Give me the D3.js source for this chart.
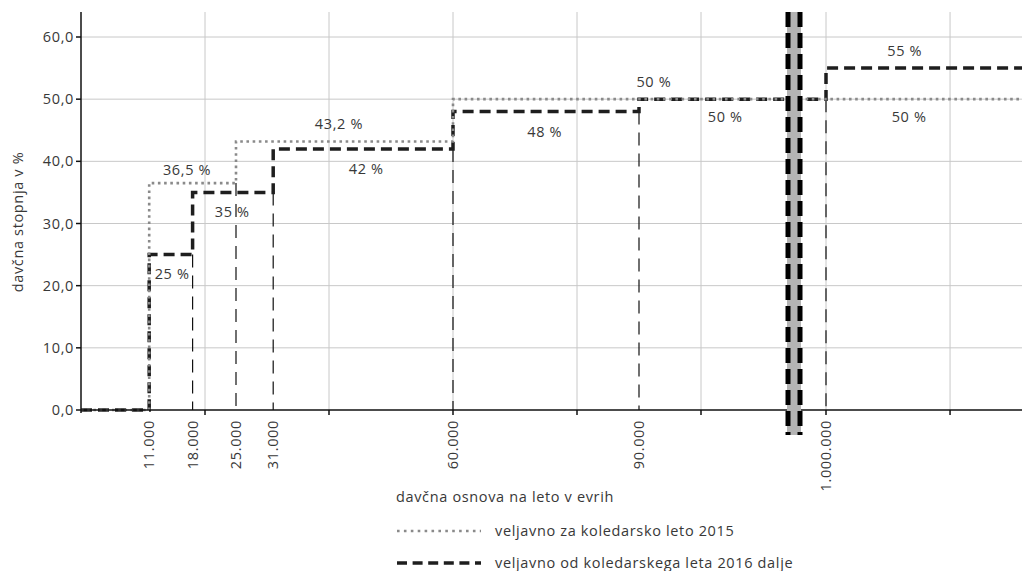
<!DOCTYPE html>
<html>
<head>
<meta charset="utf-8">
<script src="https://cdn.jsdelivr.net/npm/d3@7"></script>
<style>
  html, body { margin: 0; padding: 0; background: #fff; }
  svg text { font-family: "Open Sans", "Liberation Sans", sans-serif; fill: #383838; font-size: 14.5px; letter-spacing: 0.65px; }
</style>
</head>
<body>
<svg id="chart" width="1022" height="571"></svg>
<script>
// ---------- data ----------
const thresholds = [11000, 18000, 25000, 31000, 60000, 90000, 1000000];
const thresholdLabels = ["11.000", "18.000", "25.000", "31.000", "60.000", "90.000", "1.000.000"];
// step series: rate valid from each start value
const starts2015 = [0, 11000, 25000, 60000];
const rates2015  = [0, 36.5, 43.2, 50];
const starts2016 = [0, 11000, 18000, 31000, 60000, 90000, 1000000];
const rates2016  = [0, 25, 35, 42, 48, 50, 55];
const xEnd = 1031600;
const yTicks = [0, 10, 20, 30, 40, 50, 60];
const yTickLabels = ["0,0", "10,0", "20,0", "30,0", "40,0", "50,0", "60,0"];
const gridX = [20000, 40000, 60000, 80000, 100000, 1000000, 1020000];
const breakAt = 115200;
// annotations: text, x (EUR), y (%)
const annText = ["36,5 %", "43,2 %", "50 %", "25 %", "35 %", "42 %", "48 %", "50 %", "55 %", "50 %"];
const annX    = [17100, 41600, 92400, 14700, 24400, 46000, 74800, 103900, 1012700, 1013400];
const annY    = [38.6, 46.0, 52.8, 21.9, 31.85, 38.8, 44.7, 47.1, 57.7, 47.1];
const xTitle = "davčna osnova na leto v evrih";
const yTitle = "davčna stopnja v %";
const legendLabels = ["veljavno za koledarsko leto 2015", "veljavno od koledarskega leta 2016 dalje"];

(function () {
// ---------- layout ----------
const svg = d3.select("#chart");
const mLeft = 81, mRight = 1022, mTop = 12, base = 410;
const x = d3.scaleLinear()
  .domain([0, 115000, 1000000, xEnd])
  .range([mLeft, 794, 826, mRight]);
const y = d3.scaleLinear().domain([0, 60]).range([base, 37]);

// grid
svg.append("g").selectAll("line").data(yTicks.filter(d => d > 0)).join("line")
  .attr("x1", mLeft).attr("x2", mRight)
  .attr("y1", d => y(d)).attr("y2", d => y(d))
  .attr("stroke", "#c8c8c8").attr("stroke-width", 1);
svg.append("g").selectAll("line").data(gridX).join("line")
  .attr("x1", d => x(d)).attr("x2", d => x(d))
  .attr("y1", mTop).attr("y2", base)
  .attr("stroke", "#c8c8c8").attr("stroke-width", 1);

// thin dashed verticals at thresholds
function valueBefore(starts, rates, t) {
  let v = 0;
  for (let i = 0; i < starts.length; i++) if (starts[i] < t) v = rates[i];
  return v;
}
const vlines = thresholds.map(t => {
  const tops = [];
  if (starts2015.includes(t)) tops.push(valueBefore(starts2015, rates2015, t));
  if (starts2016.includes(t)) tops.push(valueBefore(starts2016, rates2016, t));
  return { t, topV: d3.min(tops) };
}).filter(d => d.topV > 0);
svg.append("g").selectAll("line").data(vlines).join("line")
  .attr("x1", d => x(d.t)).attr("x2", d => x(d.t))
  .attr("y1", d => y(d.topV)).attr("y2", base)
  .attr("stroke", "#111").attr("stroke-width", 1.2)
  .attr("stroke-dasharray", "13,8");

// step lines
function stepPoints(starts, rates) {
  const pts = starts.map((s, i) => [s, rates[i]]);
  pts.push([xEnd, rates[rates.length - 1]]);
  return pts;
}
const line = d3.line().x(d => x(d[0])).y(d => y(d[1])).curve(d3.curveStepAfter);
svg.append("path").datum(stepPoints(starts2016, rates2016))
  .attr("d", line).attr("fill", "none")
  .attr("stroke", "#1e1e1e").attr("stroke-width", 3.5)
  .attr("stroke-dasharray", "11,6");
svg.append("path").datum(stepPoints(starts2015, rates2015))
  .attr("d", line).attr("fill", "none")
  .attr("stroke", "#8a8a8a").attr("stroke-width", 2.6)
  .attr("stroke-dasharray", "2.6,3.6");

// axes
const xAxisG = svg.append("g").attr("transform", `translate(0,${base})`);
xAxisG.append("line").attr("x1", mLeft).attr("x2", mRight).attr("y1", 0).attr("y2", 0)
  .attr("stroke", "#111").attr("stroke-width", 1.5);
xAxisG.selectAll("line.tick").data(gridX).join("line").attr("class", "tick")
  .attr("x1", d => x(d)).attr("x2", d => x(d)).attr("y1", 0).attr("y2", 5)
  .attr("stroke", "#111").attr("stroke-width", 1.5);
xAxisG.selectAll("text").data(thresholds).join("text")
  .attr("transform", d => `translate(${x(d)},10) rotate(-90)`)
  .attr("text-anchor", "end").attr("dy", "0.35em")
  .text((d, i) => thresholdLabels[i]);

const yAxisG = svg.append("g").attr("transform", `translate(${mLeft},0)`);
yAxisG.append("line").attr("x1", 0).attr("x2", 0).attr("y1", mTop).attr("y2", base + 3)
  .attr("stroke", "#111").attr("stroke-width", 1.5);
yAxisG.selectAll("line.tick").data(yTicks).join("line").attr("class", "tick")
  .attr("x1", -5).attr("x2", 0).attr("y1", d => y(d)).attr("y2", d => y(d))
  .attr("stroke", "#111").attr("stroke-width", 1.5);
yAxisG.selectAll("text").data(yTicks).join("text")
  .attr("x", -7).attr("y", d => y(d)).attr("dy", "0.35em")
  .attr("text-anchor", "end")
  .text((d, i) => yTickLabels[i]);

// break marker
const bx = x(breakAt);
svg.append("line").attr("x1", bx).attr("x2", bx).attr("y1", mTop).attr("y2", 435)
  .attr("stroke", "#b4b4b4").attr("stroke-width", 14);
[-6, 6].forEach(off => {
  svg.append("line").attr("x1", bx + off).attr("x2", bx + off).attr("y1", mTop).attr("y2", 435)
    .attr("stroke", "#000").attr("stroke-width", 5).attr("stroke-dasharray", "15,6");
});

// annotations
svg.append("g").selectAll("text").data(annText).join("text")
  .attr("x", (d, i) => x(annX[i])).attr("y", (d, i) => y(annY[i]))
  .attr("dy", "0.35em").attr("text-anchor", "middle")
  .text(d => d);

// titles
svg.append("text").attr("transform", "translate(23,222) rotate(-90)")
  .attr("text-anchor", "middle").text(yTitle);
svg.append("text").attr("x", 396).attr("y", 497).attr("dy", "0.35em")
  .text(xTitle);

// legend
const lg = svg.append("g");
lg.append("line").attr("x1", 397).attr("x2", 481).attr("y1", 531).attr("y2", 531)
  .attr("stroke", "#8a8a8a").attr("stroke-width", 2.6).attr("stroke-dasharray", "2.6,4.3");
lg.append("line").attr("x1", 397).attr("x2", 481).attr("y1", 563).attr("y2", 563)
  .attr("stroke", "#1e1e1e").attr("stroke-width", 3.5).attr("stroke-dasharray", "10,5.6");
lg.selectAll("text").data(legendLabels).join("text")
  .attr("x", 495).attr("y", (d, i) => 531 + i * 32).attr("dy", "0.35em")
  .text(d => d);
})();
</script>
</body>
</html>
